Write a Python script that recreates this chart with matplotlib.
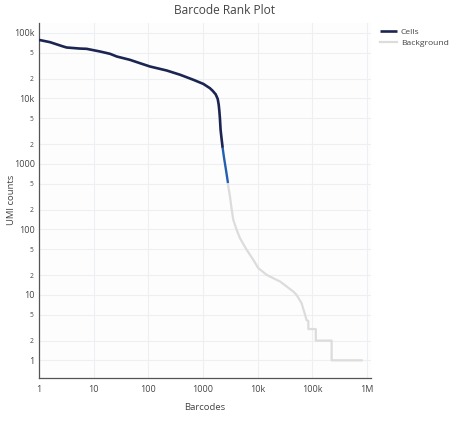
import matplotlib
matplotlib.use("Agg")
import matplotlib.pyplot as plt
from matplotlib.ticker import FixedLocator, FixedFormatter, NullLocator

plt.rcParams['font.family'] = ['Open Sans', 'DejaVu Sans']

# ---- data ----
cells_rank = [1, 1.59, 2.78, 3.2, 5.6, 7.4, 13, 19.9, 26.4, 46, 70, 107, 216, 380, 662,
              1010, 1330, 1500, 1700, 1850, 1930, 1980, 2030, 2090, 2180, 2280]
cells_umi = [78000, 72000, 61800, 59700, 57500, 57000, 51900, 47800, 43500, 38700, 34400,
             30600, 26600, 22900, 19200, 16600, 14300, 13000, 11500, 9800, 8000, 6500,
             5000, 3300, 2400, 1750]
mixed_rank = [2280, 2400, 2620, 2850]
mixed_umi = [1750, 1280, 810, 510]
bg_rank = [2850, 2890, 3100, 3340, 3560, 4110, 4730, 6270, 8280, 10200, 14500, 22100,
           25500, 33700, 44600, 51000, 63000, 73000, 78000, 84000, 84000, 115000, 115000,
           224000, 224000, 795000]
bg_umi = [510, 450, 317, 199, 140, 98, 73, 48.6, 34.2, 25.6, 20.2, 16.9,
          16, 13.4, 11.2, 10, 7.5, 5, 4.1, 4, 3, 3, 2, 2, 1, 1]

x_ticks = [1, 10, 100, 1000, 1e4, 1e5, 1e6]
x_labels = ['1', '10', '100', '1000', '10k', '100k', '1M']
y_major = [1, 10, 100, 1000, 1e4, 1e5]
y_major_labels = ['1', '10', '100', '1000', '10k', '100k']
y_minor = [2, 5, 20, 50, 200, 500, 2000, 5000, 20000, 50000]
y_minor_labels = ['2', '5'] * 5

W, H = 451, 421
fig = plt.figure(figsize=(W / 100, H / 100), dpi=100)
fig.patch.set_facecolor('white')
L, R, T, B = 39, 371, 23, 378
ax = fig.add_axes([L / W, 1 - B / H, (R - L) / W, (B - T) / H])
ax.set_facecolor('#fdfdfe')

ax.set_xscale('log')
ax.set_yscale('log')
ax.set_xlim(1, 10 ** 6.07)
ax.set_ylim(10 ** -0.27, 10 ** 5.15)

grid_c = '#edf0f2'
for v in x_ticks:
    ax.axvline(v, color=grid_c, lw=0.8, zorder=0)
for v in y_major + y_minor:
    ax.axhline(v, color=grid_c, lw=0.8, zorder=0)

ax.plot(bg_rank, bg_umi, color='#dcdcdc', lw=1.6, label='Background', zorder=2,
        solid_joinstyle='round')
ax.plot(cells_rank, cells_umi, color='#1c2552', lw=1.9, label='Cells', zorder=3,
        solid_capstyle='butt', solid_joinstyle='round')
ax.plot(mixed_rank, mixed_umi, color='#2160b0', lw=1.7, zorder=3, solid_capstyle='butt',
        solid_joinstyle='round')

ax.xaxis.set_major_locator(FixedLocator(x_ticks))
ax.xaxis.set_major_formatter(FixedFormatter(x_labels))
ax.xaxis.set_minor_locator(NullLocator())
ax.yaxis.set_major_locator(FixedLocator(y_major))
ax.yaxis.set_major_formatter(FixedFormatter(y_major_labels))
ax.yaxis.set_minor_locator(FixedLocator(y_minor))
ax.yaxis.set_minor_formatter(FixedFormatter(y_minor_labels))

tc = '#444444'
ax.tick_params(axis='both', which='both', length=0, colors=tc)
ax.tick_params(axis='x', which='major', labelsize=6.5, pad=5)
ax.tick_params(axis='y', which='major', labelsize=6.5, pad=3)
ax.tick_params(axis='y', which='minor', labelsize=4.8, pad=4)

for s in ['top', 'right']:
    ax.spines[s].set_visible(False)
for s in ['left', 'bottom']:
    ax.spines[s].set_color('#555555')
    ax.spines[s].set_linewidth(0.9)

fig.text(224 / W, 1 - 11 / H, 'Barcode Rank Plot', ha='center', va='center',
         fontsize=8.6, color=tc)
fig.text(205 / W, 1 - 408 / H, 'Barcodes', ha='center', va='center',
         fontsize=6.8, color=tc)
fig.text(12 / W, 1 - 200 / H, 'UMI counts', ha='center', va='center',
         rotation=90, fontsize=6.8, color=tc)

handles, labels = ax.get_legend_handles_labels()
order = [labels.index('Cells'), labels.index('Background')]
leg = fig.legend([handles[i] for i in order], [labels[i] for i in order],
                 loc='upper left', bbox_to_anchor=(380 / W, 1 - 28 / H),
                 frameon=False, fontsize=6.1, handlelength=2.0, handletextpad=0.45,
                 labelspacing=0.38, borderaxespad=0, borderpad=0)
for t in leg.get_texts():
    t.set_color(tc)

fig.savefig('out.png', dpi=100)
